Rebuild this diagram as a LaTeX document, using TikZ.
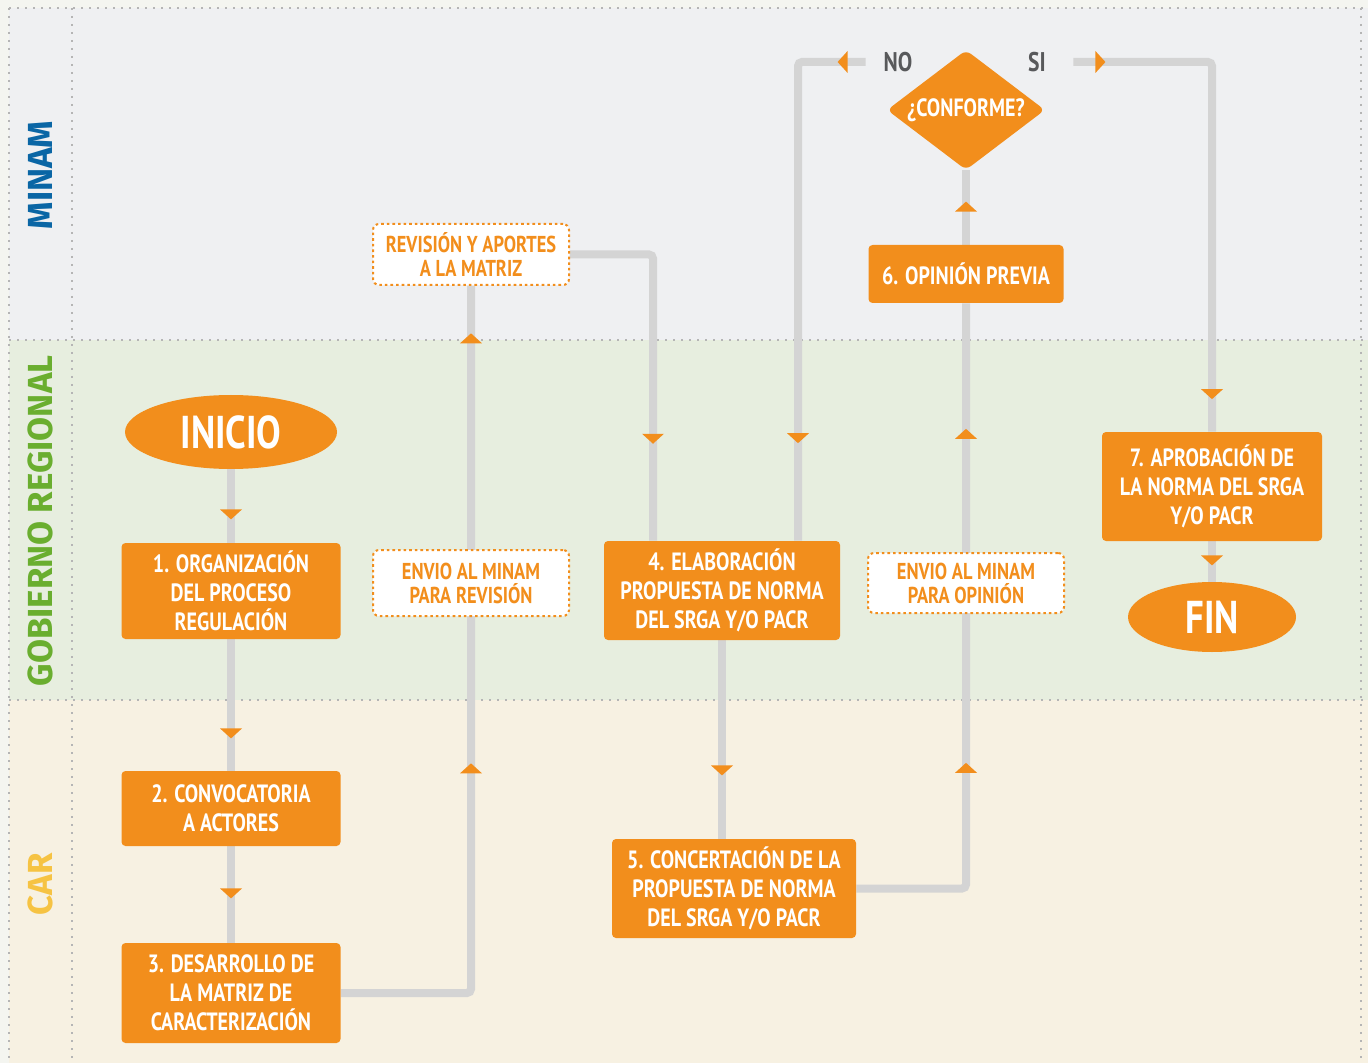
\documentclass[tikz,border=0pt]{standalone}
\usepackage{fontspec}
\setmainfont{PT Sans}
\newfontfamily\flowfont[FakeStretch=0.8]{PT Sans}
\newfontfamily\lanefont{Fira Sans}
\usetikzlibrary{positioning,calc,shapes.geometric,decorations.markings}
\definecolor{ora}{HTML}{F28E1C}
\definecolor{linegray}{HTML}{D4D4D4}
\definecolor{pagebg}{HTML}{F4F5F0}
\definecolor{minambg}{HTML}{EFF0F2}
\definecolor{gorebg}{HTML}{E7EEDF}
\definecolor{carbg}{HTML}{F7F1E2}
\definecolor{minamblue}{HTML}{0A66A5}
\definecolor{goregreen}{HTML}{6AAE2F}
\definecolor{caryellow}{HTML}{F6C343}
\definecolor{dotgray}{HTML}{B5B5B5}
\definecolor{labelgray}{HTML}{58595B}
\pgfdeclarelayer{bg}
\pgfdeclarelayer{lines}
\pgfsetlayers{bg,lines,main}
\tikzset{stepbox/.style={fill=ora, text=white, rounded corners=2pt, inner sep=0pt, align=center, font=\flowfont\bfseries\fontsize{12.5}{14.5}\selectfont}}
\tikzset{notebox/.style={fill=white, draw=ora, line width=1pt, dash pattern=on 1.3pt off 1.5pt, rounded corners=3pt, text=ora, inner sep=0pt, align=center, font=\flowfont\bfseries\fontsize{11.5}{12}\selectfont}}
\tikzset{termnode/.style={ellipse, fill=ora, text=white, inner sep=0pt, font=\flowfont\bfseries\fontsize{23}{24}\selectfont}}
\tikzset{decide/.style={diamond, shape aspect=1.3, fill=ora, text=white, inner sep=0pt, rounded corners=3pt, minimum width=79pt, minimum height=60pt, font=\flowfont\bfseries\fontsize{12.5}{14.5}\selectfont}}
\tikzset{branch/.style={text=labelgray, inner sep=0pt, font=\flowfont\bfseries\fontsize{13.5}{14}\selectfont}}
\tikzset{lanename/.style={rotate=90, inner sep=0pt, font=\lanefont\bfseries\fontsize{17.4}{17.4}\selectfont}}
\tikzset{lanerule/.style={draw=dotgray, line width=1pt, dash pattern=on 1pt off 3pt}}
\tikzset{flow/.style={draw=linegray, line width=4pt, rounded corners=2pt}}
\tikzset{tip at/.style={postaction={decorate, decoration={markings, mark=at position #1 with {\fill[ora, sharp corners] (2.5pt,0) -- (-2.5pt,5.5pt) -- (-2.5pt,-5.5pt) -- cycle;}}}}}

\begin{document}
\begin{tikzpicture}[x=0.5pt, y=-0.5pt]
\useasboundingbox (0,0) rectangle (1368,1063);
%
\begin{pgfonlayer}{bg}
\fill[pagebg] (0,0) rectangle (1368,1063);
\fill[minambg] (9,8) rectangle (1368,340);
\fill[gorebg] (9,340) rectangle (1368,700);
\fill[carbg] (9,700) rectangle (1368,1063);
\draw[lanerule] (9,8) -- (1368,8);
\draw[lanerule] (9,340) -- (1368,340);
\draw[lanerule] (9,700) -- (1368,700);
\draw[lanerule] (9,8) -- (9,1063);
\draw[lanerule] (72,8) -- (72,1063);
\draw[lanerule] (1361,8) -- (1361,1063);
\end{pgfonlayer}
%
\node[lanename, text=minamblue] (lminam) at (40,175) {MINAM};
\node[lanename, text=goregreen] (lgore) at (40,521) {GOBIERNO REGIONAL};
\node[lanename, text=caryellow] (lcar) at (40,884) {CAR};
%
\node[termnode, minimum width=106pt, minimum height=37pt] (inicio) at (231,432) {INICIO};
\node[stepbox, minimum width=109.5pt, minimum height=48pt] (b1) at (231,591) {1. ORGANIZACIÓN\\DEL PROCESO\\REGULACIÓN};
\node[stepbox, minimum width=109.5pt, minimum height=37.5pt] (b2) at (231,808.5) {2. CONVOCATORIA\\A ACTORES};
\node[stepbox, minimum width=109.5pt, minimum height=50pt] (b3) at (231,993) {3. DESARROLLO DE\\LA MATRIZ DE\\CARACTERIZACIÓN};
\node[notebox, minimum width=98pt, minimum height=30.5pt] (rev) at (471,254.5) {REVISIÓN Y APORTES\\A LA MATRIZ};
\node[notebox, minimum width=98pt, minimum height=33pt] (env1) at (471,583) {ENVIO AL MINAM\\PARA REVISIÓN};
\node[stepbox, minimum width=118pt, minimum height=49.5pt] (b4) at (722,590.5) {4. ELABORACIÓN\\PROPUESTA DE NORMA\\DEL SRGA Y/O PACR};
\node[stepbox, minimum width=122pt, minimum height=49.5pt] (b5) at (734,888.5) {5. CONCERTACIÓN DE LA\\PROPUESTA DE NORMA\\DEL SRGA Y/O PACR};
\node[notebox, minimum width=98pt, minimum height=30pt] (env2) at (966,583) {ENVIO AL MINAM\\PARA OPINIÓN};
\node[stepbox, minimum width=97.5pt, minimum height=29pt] (b6) at (966,274) {6. OPINIÓN PREVIA};
\node[decide] (dia) at (966,110) {¿CONFORME?};
\node[branch, minimum width=32pt] (no) at (898,62) {NO};
\node[branch, minimum width=36pt] (si) at (1037,62) {SI};
\node[stepbox, minimum width=110pt, minimum height=54.5pt] (b7) at (1212,486.5) {7. APROBACIÓN DE\\LA NORMA DEL SRGA\\Y/O PACR};
\node[termnode, minimum width=84pt, minimum height=35pt] (fin) at (1212,617) {FIN};
%
\begin{pgfonlayer}{lines}
\draw[flow, tip at=22.5pt] (inicio.south) -- (b1.north);
\draw[flow, tip at=47pt] (b1.south) -- (b2.north);
\draw[flow, tip at=23.5pt] (b2.south) -- (b3.north);
\draw[flow, tip at=176.5pt, tip at=391.5pt] (b3.east) -| (rev.south);
\draw[flow, tip at=132.75pt] (rev.east) -| ([xshift=-34.5pt]b4.north);
\draw[flow, tip at=65pt] (b4.south) -- (b4.south |- b5.north);
\draw[flow, tip at=114.25pt, tip at=281.25pt] (b5.east) -| (b6.south);
\draw[flow, tip at=19pt] (b6.north) -- (dia.south);
\draw[flow, tip at=11.5pt, tip at=221pt] (no.west) -| ([xshift=38pt]b4.north);
\draw[flow, tip at=13.5pt, tip at=234.5pt] (si.east) -| (b7.north);
\draw[flow, tip at=9.5pt] (b7.south) -- (fin.north);
\end{pgfonlayer}
\end{tikzpicture}
\end{document}
